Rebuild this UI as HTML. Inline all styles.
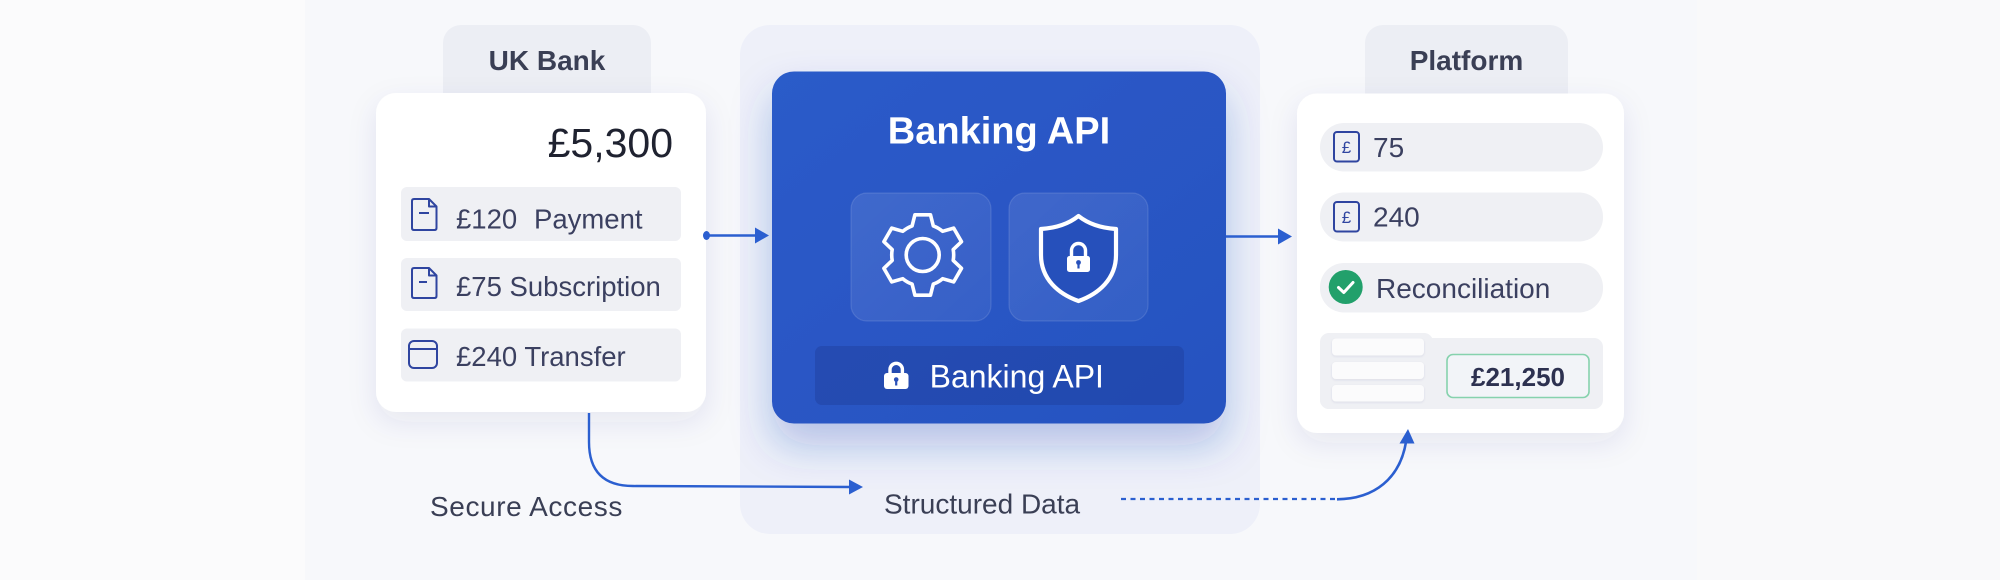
<!DOCTYPE html>
<html>
<head>
<meta charset="utf-8">
<style>
  html, body { margin:0; padding:0; background:#fafafb; }
  body { width:2000px; height:580px; overflow:hidden; }
  svg { display:block; }
  text { font-family: "Liberation Sans", "DejaVu Sans", sans-serif; }
</style>
</head>
<body>
<svg width="2000" height="580" viewBox="0 0 2000 580" xmlns="http://www.w3.org/2000/svg">
  <defs>
    <filter id="cardShadow" x="-20%" y="-20%" width="140%" height="150%">
      <feDropShadow dx="0" dy="10" stdDeviation="14" flood-color="#2a3580" flood-opacity="0.09"/>
    </filter>
    <filter id="blueShadow" x="-20%" y="-20%" width="140%" height="160%">
      <feDropShadow dx="0" dy="22" stdDeviation="20" flood-color="#2848b8" flood-opacity="0.28"/>
    </filter>
    <filter id="barShadow" x="-10%" y="-30%" width="120%" height="180%">
      <feDropShadow dx="0" dy="1" stdDeviation="1" flood-color="#303a70" flood-opacity="0.10"/>
    </filter>
    <linearGradient id="blueGrad" x1="0" y1="0" x2="1" y2="1">
      <stop offset="0" stop-color="#2b5bc9"/>
      <stop offset="1" stop-color="#2752c0"/>
    </linearGradient>
    <linearGradient id="tileGrad" x1="0" y1="0" x2="1" y2="1">
      <stop offset="0" stop-color="#ffffff" stop-opacity="0.10"/>
      <stop offset="1" stop-color="#ffffff" stop-opacity="0.06"/>
    </linearGradient>
  </defs>

  <!-- background bands -->
  <rect x="0" y="0" width="2000" height="580" fill="#fbfbfc"/>
  <rect x="305" y="0" width="1392" height="580" fill="#f7f8fb"/>
  <rect x="1697" y="0" width="303" height="580" fill="#f9f9fa"/>

  <!-- center outer panel -->
  <rect x="740" y="25" width="520" height="509" rx="30" fill="#eef0f9"/>

  <!-- ===== UK Bank ===== -->
  <rect x="443" y="25" width="208" height="90" rx="18" fill="#eceef4"/>
  <text x="547" y="70" font-size="28" font-weight="bold" fill="#3a3f55" text-anchor="middle">UK Bank</text>

  <rect x="376" y="93" width="330" height="319" rx="20" fill="#ffffff" filter="url(#cardShadow)"/>
  <text x="673" y="157" font-size="41" fill="#1f2230" text-anchor="end">£5,300</text>

  <!-- rows -->
  <rect x="401" y="187" width="280" height="54" rx="6" fill="#eff0f4"/>
  <rect x="401" y="258" width="280" height="53" rx="6" fill="#eff0f4"/>
  <rect x="401" y="328.5" width="280" height="53" rx="6" fill="#eff0f4"/>

  <!-- doc icon 1 -->
  <path d="M414,199 H429 L436.5,206.5 V228 Q436.5,230 434.5,230 H414 Q412,230 412,228 V201 Q412,199 414,199 Z M429,199 V206.5 H436.5" fill="none" stroke="#2f45a0" stroke-width="2" stroke-linejoin="round"/>
  <line x1="419" y1="213" x2="429" y2="213" stroke="#2f45a0" stroke-width="2"/>
  <!-- doc icon 2 -->
  <path d="M414,268 H429 L436.5,275.5 V296 Q436.5,298 434.5,298 H414 Q412,298 412,296 V270 Q412,268 414,268 Z M429,268 V275.5 H436.5" fill="none" stroke="#2f45a0" stroke-width="2" stroke-linejoin="round"/>
  <line x1="419" y1="282" x2="427" y2="282" stroke="#2f45a0" stroke-width="2"/>
  <!-- card icon -->
  <rect x="409" y="341" width="28" height="27" rx="5" fill="none" stroke="#2f45a0" stroke-width="2"/>
  <line x1="409" y1="349" x2="437" y2="349" stroke="#2f45a0" stroke-width="2"/>

  <text x="456" y="228.5" font-size="27.5" fill="#3b4060">£120</text>
  <text x="534" y="228.5" font-size="27.5" fill="#3b4060">Payment</text>
  <text x="456" y="296" font-size="27.5" fill="#3b4060">£75 Subscription</text>
  <text x="456" y="366" font-size="27.5" fill="#3b4060">£240 Transfer</text>

  <!-- ===== Banking API card ===== -->
  <rect x="772" y="71.5" width="454" height="352" rx="22" fill="url(#blueGrad)" filter="url(#blueShadow)"/>
  <text x="999" y="143.5" font-size="38" font-weight="bold" fill="#ffffff" text-anchor="middle">Banking API</text>

  <!-- tiles -->
  <rect x="851" y="193" width="140" height="128" rx="16" fill="url(#tileGrad)" stroke="#ffffff" stroke-opacity="0.12" stroke-width="1.2"/>
  <rect x="1009" y="193" width="139" height="128" rx="16" fill="url(#tileGrad)" stroke="#ffffff" stroke-opacity="0.12" stroke-width="1.2"/>

  <!-- gear -->
  <g transform="translate(922.7,255)">
    <path d="M-10.6,-29.1 L-7.8,-40.2 L7.8,-40.2 L10.6,-29.1 A31,31 0 0 1 19.9,-23.7 L31.0,-26.9 L38.8,-13.3 L30.5,-5.4 A31,31 0 0 1 30.5,5.4 L38.8,13.3 L31.0,26.9 L19.9,23.7 A31,31 0 0 1 10.6,29.1 L7.8,40.2 L-7.8,40.2 L-10.6,29.1 A31,31 0 0 1 -19.9,23.7 L-31.0,26.9 L-38.8,13.3 L-30.5,5.4 A31,31 0 0 1 -30.5,-5.4 L-38.8,-13.3 L-31.0,-26.9 L-19.9,-23.7 A31,31 0 0 1 -10.6,-29.1 Z" fill="none" stroke="#ffffff" stroke-width="3.6" stroke-linejoin="round"/>
    <circle cx="0" cy="0" r="16.5" fill="none" stroke="#ffffff" stroke-width="3.6"/>
  </g>

  <!-- shield -->
  <g transform="translate(1078.5,258)">
    <path d="M0,-42 C10,-34 22,-30 37.5,-29 L37.5,-3 C37.5,21 20,36 0,43 C-20,36 -37.5,21 -37.5,-3 L-37.5,-29 C-22,-30 -10,-34 0,-42 Z" fill="#2650bb" stroke="#ffffff" stroke-width="4.2" stroke-linejoin="round"/>
  </g>
  <!-- lock in shield -->
  <path d="M1071.5,257 V250.5 a7,7 0 0 1 14,0 V257" fill="none" stroke="#ffffff" stroke-width="3.4"/>
  <rect x="1067" y="256" width="23" height="16" rx="2.5" fill="#ffffff"/>
  <circle cx="1078.5" cy="262.5" r="2.4" fill="#2650bb"/>
  <rect x="1077.4" y="263" width="2.2" height="5.5" fill="#2650bb"/>

  <!-- bottom bar -->
  <rect x="815" y="346" width="369" height="59" rx="7" fill="#1f3f9c" fill-opacity="0.45"/>
  <path d="M890,374 V369.5 a6.2,6.2 0 0 1 12.4,0 V374" fill="none" stroke="#ffffff" stroke-width="3.4"/>
  <rect x="884" y="373" width="24.5" height="16" rx="3" fill="#ffffff"/>
  <circle cx="896.2" cy="379.5" r="2.3" fill="#2a50b8"/>
  <rect x="895.1" y="380" width="2.2" height="5.5" fill="#2a50b8"/>
  <text x="929.6" y="387.7" font-size="32" fill="#ffffff">Banking API</text>

  <!-- ===== Platform ===== -->
  <rect x="1365" y="25" width="203" height="90" rx="18" fill="#eceef4"/>
  <text x="1466.5" y="70" font-size="28" font-weight="bold" fill="#3a3f55" text-anchor="middle">Platform</text>

  <rect x="1297" y="93.5" width="327" height="339.5" rx="20" fill="#ffffff" filter="url(#cardShadow)"/>

  <rect x="1320" y="123" width="283" height="48.5" rx="24" fill="#eff0f4"/>
  <rect x="1320" y="192.5" width="283" height="49" rx="24" fill="#eff0f4"/>
  <rect x="1320" y="263" width="283" height="49.5" rx="24" fill="#eff0f4"/>

  <!-- £ icons -->
  <rect x="1334" y="132" width="25" height="29.5" rx="3" fill="none" stroke="#2f45a0" stroke-width="2"/>
  <text x="1346.5" y="153" font-size="17" fill="#2f45a0" text-anchor="middle">£</text>
  <rect x="1334" y="202" width="25" height="29.5" rx="3" fill="none" stroke="#2f45a0" stroke-width="2"/>
  <text x="1346.5" y="223" font-size="17" fill="#2f45a0" text-anchor="middle">£</text>

  <text x="1373" y="157" font-size="28" fill="#3b4060">75</text>
  <text x="1373" y="226.5" font-size="28" fill="#3b4060">240</text>

  <!-- check -->
  <circle cx="1345.7" cy="287" r="17" fill="#22a06b"/>
  <path d="M1338.5,287.5 L1343.8,292.5 L1353,282.5" fill="none" stroke="#ffffff" stroke-width="3" stroke-linecap="round" stroke-linejoin="round"/>
  <text x="1376" y="298" font-size="28" fill="#3b4060">Reconciliation</text>

  <!-- summary panel -->
  <rect x="1320" y="338" width="283" height="71" rx="9" fill="#eff0f4"/>
  <rect x="1320" y="333" width="113" height="76" rx="9" fill="#eff0f4"/>
  <rect x="1332" y="338.5" width="92" height="17" rx="4" fill="#fbfbfc" filter="url(#barShadow)"/>
  <rect x="1332" y="362" width="92" height="17" rx="4" fill="#fbfbfc" filter="url(#barShadow)"/>
  <rect x="1332" y="385" width="92" height="16.5" rx="4" fill="#fbfbfc" filter="url(#barShadow)"/>
  <rect x="1447" y="354.5" width="142" height="43" rx="6" fill="#f2f4f8" stroke="#86d2ad" stroke-width="1.6"/>
  <text x="1518" y="386" font-size="26" font-weight="bold" fill="#2d3150" text-anchor="middle">£21,250</text>

  <!-- ===== connectors ===== -->
  <!-- bank -> api -->
  <ellipse cx="706.5" cy="235.5" rx="3.5" ry="4.5" fill="#2b5fd0"/>
  <line x1="706" y1="235.5" x2="758" y2="235.5" stroke="#2b5fd0" stroke-width="2.6"/>
  <polygon points="769,235.5 755,227.5 755,243.5" fill="#2b5fd0"/>

  <!-- api -> platform -->
  <line x1="1226" y1="236.5" x2="1282" y2="236.5" stroke="#2b5fd0" stroke-width="2.6"/>
  <polygon points="1292,236.5 1278,228.5 1278,244.5" fill="#2b5fd0"/>

  <!-- secure access connector -->
  <path d="M589,413 L589,442 Q589,486 633,486 L852,487" fill="none" stroke="#2b5fd0" stroke-width="2.4"/>
  <polygon points="863,487 849,479.5 849,494.5" fill="#2b5fd0"/>

  <!-- dashed structured data -->
  <line x1="1121" y1="499" x2="1336" y2="499" stroke="#2b5fd0" stroke-width="2.2" stroke-dasharray="5 4.5"/>
  <path d="M1337,499.3 C1375,499 1400,478 1406,442" fill="none" stroke="#2b5fd0" stroke-width="2.6"/>
  <polygon points="1408,429 1399.5,443.5 1414.5,443.5" fill="#2b5fd0"/>

  <!-- labels -->
  <text x="430" y="516" font-size="28" fill="#3a3f55" letter-spacing="0.6">Secure Access</text>
  <text x="884" y="513.5" font-size="28" fill="#3a3f55">Structured Data</text>
</svg>
</body>
</html>
